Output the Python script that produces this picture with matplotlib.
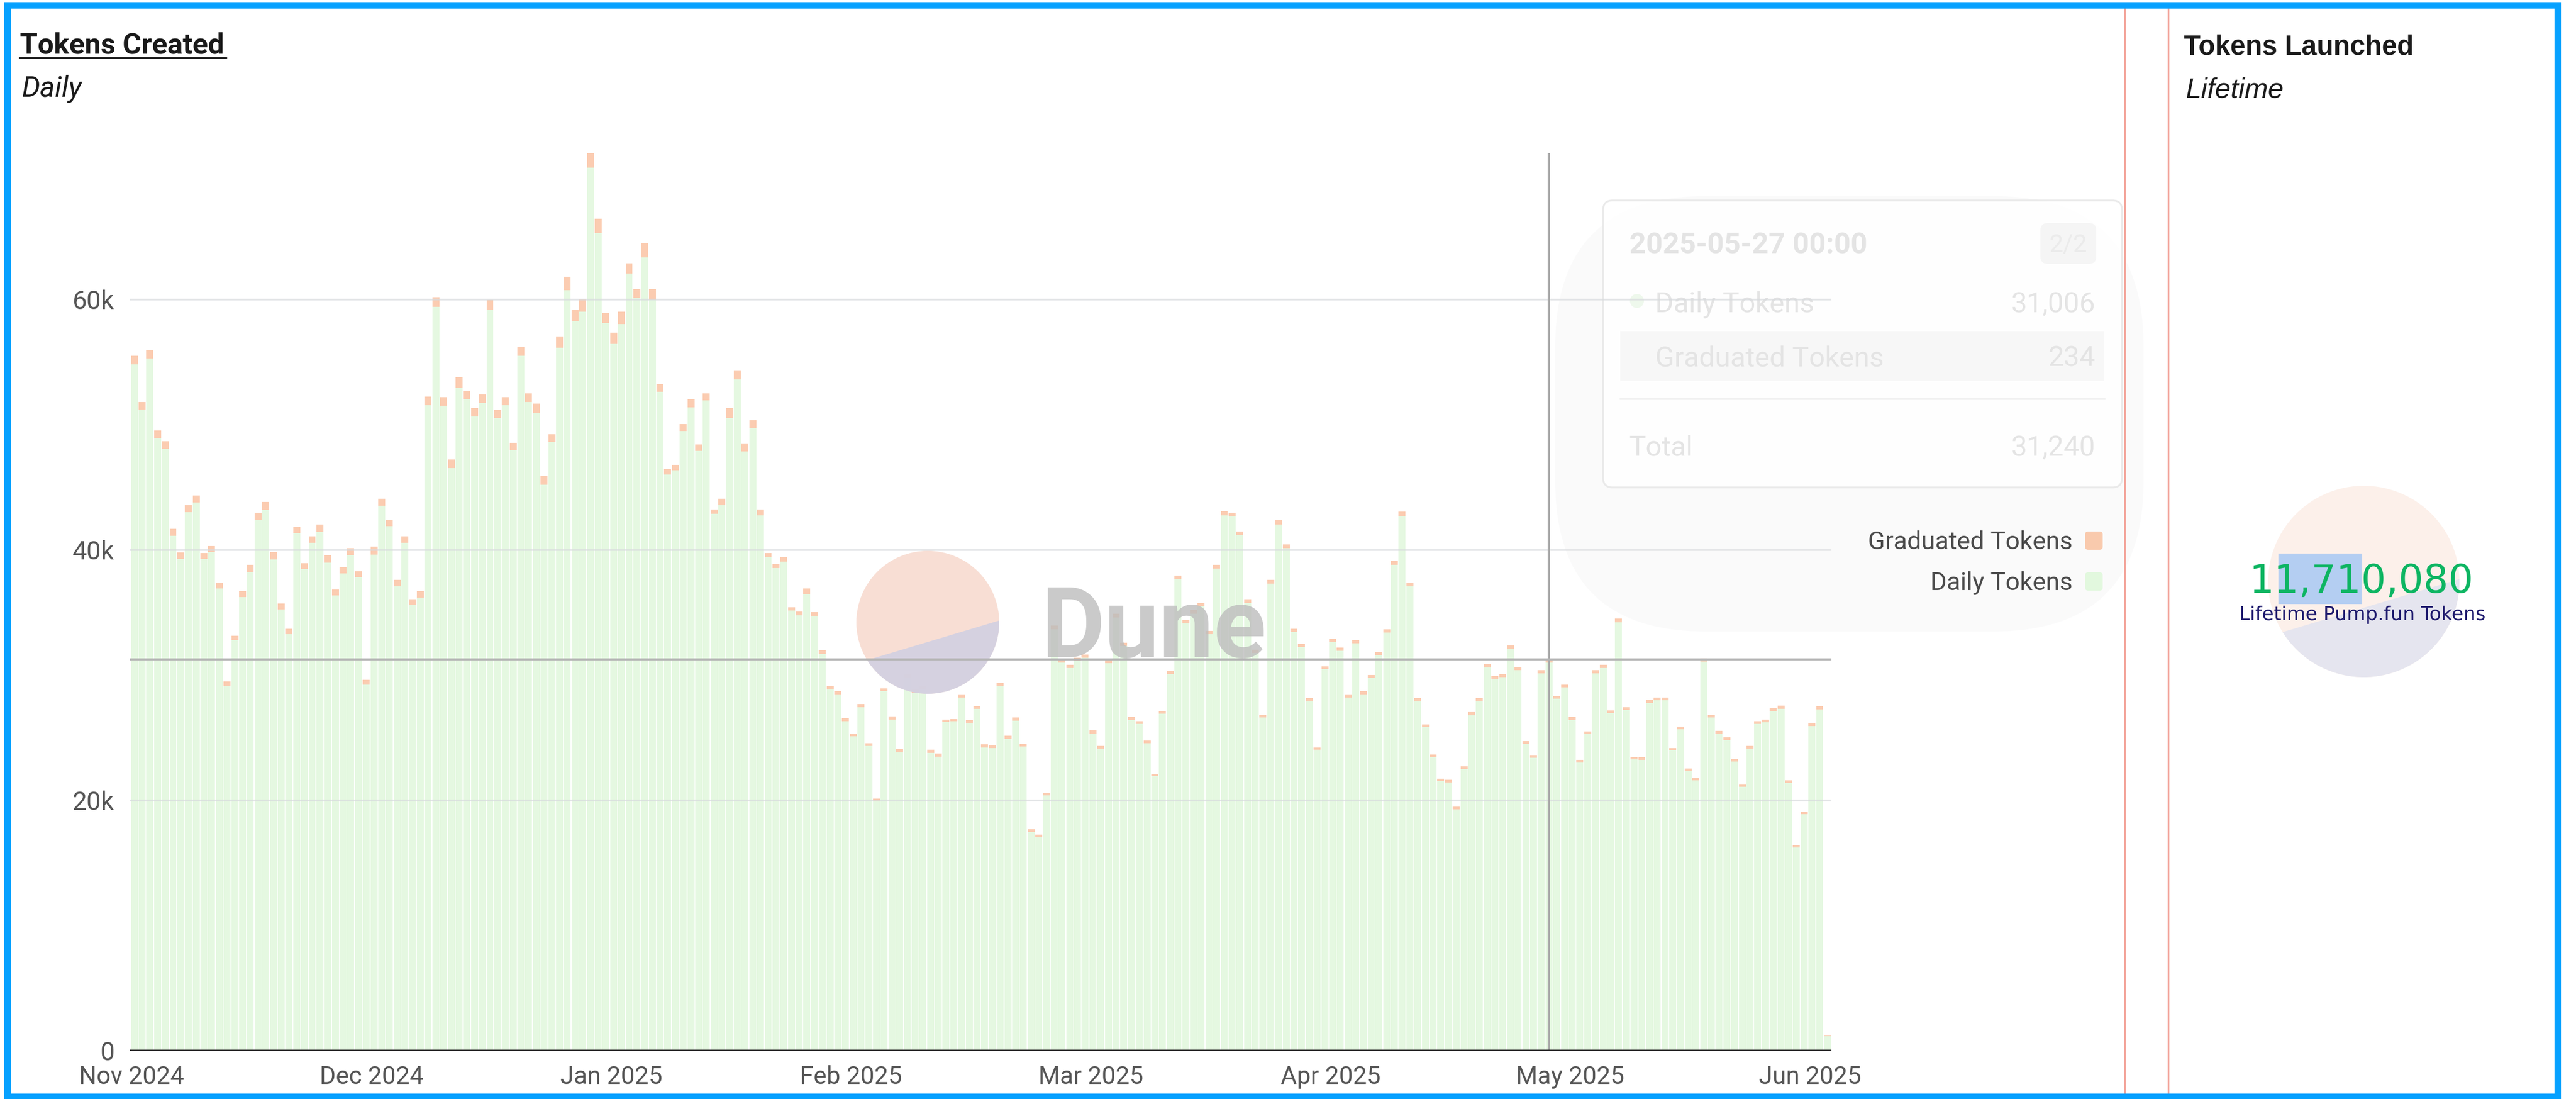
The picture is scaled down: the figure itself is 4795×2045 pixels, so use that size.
import numpy as np
import matplotlib
matplotlib.use('Agg')
import matplotlib.pyplot as plt
from matplotlib.transforms import Affine2D
from matplotlib.patches import Rectangle, FancyBboxPatch, Circle, Polygon
from matplotlib.lines import Line2D

plt.rcParams['font.family'] = ['Roboto', 'DejaVu Sans']

# ---------------- data ----------------
daily_tokens = [
    54820, 51220, 55280, 48920, 48080, 41140, 39260, 43010, 43780, 39260,
    39830, 36920, 29130, 32780, 36230, 38220, 42360, 43170, 39220, 35230,
    33270, 41330, 38450, 40560, 41440, 38990, 36340, 38140, 39600, 37800,
    29250, 39640, 43510, 41900, 37110, 40560, 35580, 36190, 51560, 59420,
    51530, 46540, 52910, 52020, 50640, 51720, 59190, 50530, 51560, 47960,
    55510, 51830, 50950, 45200, 48650, 56170, 60730, 58270, 59040, 70540,
    65290, 58120, 56430, 58040, 62070, 60150, 63370, 59960, 52640, 46040,
    46350, 49490, 51370, 47920, 51950, 42900, 43590, 50530, 53600, 47850,
    49720, 42750, 39410, 38570, 39060, 35150, 34770, 36460, 34730, 31660,
    28830, 28440, 26330, 25110, 27450, 24340, 19970, 28710, 26450, 23840,
    29780, 28600, 28830, 23800, 23500, 26260, 26300, 28210, 26180, 27290,
    24220, 24180, 29100, 24910, 26350, 24300, 17470, 17050, 20400, 33660,
    31000, 30560, 31140, 31360, 25340, 24120, 30950, 34620, 32310, 26400,
    26100, 24540, 21920, 26900, 30100, 37660, 34120, 34910, 35490, 33280,
    38500, 42760, 42660, 41170, 35760, 31750, 26600, 37320, 42040, 40140,
    33440, 32260, 27950, 24020, 30460, 32630, 31950, 28210, 32520, 28480,
    29780, 31610, 33400, 38800, 42720, 37090, 27950, 25850, 23440, 21530,
    21420, 19280, 22480, 26800, 27940, 30600, 29690, 29840, 32080, 30380,
    24500, 23400, 30150, 31006, 28100, 29010, 26420, 23020, 25270, 30150,
    30560, 26950, 34220, 27220, 23250, 23210, 27790, 27980, 27990, 23980,
    25660, 22340, 21610, 31060, 26600, 25310, 24820, 23100, 21070, 24120,
    26100, 26220, 27130, 27320, 21380, 16220, 18890, 25950, 27280, 1170,
]
graduated_tokens = [
    690, 610, 690, 610, 610, 530, 530, 580, 580, 490,
    500, 460, 350, 380, 460, 580, 620, 650, 610, 500,
    430, 530, 500, 540, 580, 610, 500, 500, 540, 500,
    380, 610, 580, 500, 500, 540, 490, 500, 690, 770,
    690, 690, 880, 690, 690, 690, 770, 650, 660, 580,
    730, 690, 730, 690, 610, 880, 1070, 920, 960, 1150,
    1150, 840, 920, 1000, 840, 690, 1150, 880, 570, 420,
    460, 580, 650, 500, 530, 340, 500, 800, 730, 650,
    620, 490, 340, 340, 350, 270, 310, 460, 310, 310,
    270, 270, 230, 230, 260, 230, 150, 230, 270, 230,
    270, 270, 300, 230, 230, 190, 190, 230, 230, 230,
    240, 240, 260, 240, 250, 230, 200, 200, 220, 300,
    280, 260, 260, 270, 230, 220, 250, 300, 270, 240,
    230, 220, 200, 240, 260, 290, 270, 280, 280, 260,
    300, 330, 320, 310, 280, 260, 230, 290, 320, 300,
    260, 250, 230, 210, 250, 260, 250, 230, 260, 230,
    240, 250, 260, 300, 330, 290, 230, 220, 210, 200,
    200, 190, 210, 230, 240, 260, 250, 250, 270, 250,
    220, 210, 250, 234, 230, 240, 220, 210, 220, 250,
    260, 230, 280, 230, 210, 210, 230, 240, 230, 210,
    220, 200, 200, 260, 230, 220, 210, 210, 200, 220,
    230, 230, 240, 240, 200, 180, 190, 230, 240, 30,
]
y_ticks = [0, 20000, 40000, 60000]
y_tick_labels = ['0', '20k', '40k', '60k']
month_labels = ['Nov 2024', 'Dec 2024', 'Jan 2025', 'Feb 2025',
                'Mar 2025', 'Apr 2025', 'May 2025', 'Jun 2025']
series_names = ['Graduated Tokens', 'Daily Tokens']
hover_index = 183
tooltip_date = '2025-05-27 00:00'
tooltip_page = '2/2'
lifetime_tokens = 11710080
lifetime_label = 'Lifetime Pump.fun Tokens'

GREEN = '#E5F8E1'
PEACH = '#FBCCB1'

# ---------------- figure ----------------
W, H = 4795, 2045
DPI = 300
fig = plt.figure(figsize=(W / DPI, H / DPI), dpi=DPI)
fig.patch.set_facecolor('white')
P = Affine2D().scale(1, -1).translate(0, H)   # image pixels (origin top-left)

AX_L, AX_R, AX_T, AX_B = 242, 3409, 285, 1955
ax = fig.add_axes([AX_L / W, 1 - AX_B / H, (AX_R - AX_L) / W, (AX_B - AX_T) / H])
ax.set_facecolor('white')

daily = np.array(daily_tokens)
grad = np.array(graduated_tokens)
total = daily + grad
x = np.arange(len(daily))

ax.bar(x, daily, width=0.9, color=GREEN, linewidth=0, zorder=2)
ax.bar(x, grad, bottom=daily, width=0.9, color=PEACH, linewidth=0, zorder=2)

ax.set_xlim(-0.56, len(daily) - 0.47)
ax.set_ylim(0, total.max())

for s in ax.spines.values():
    s.set_visible(False)

ax.set_yticks(y_ticks, y_tick_labels)
month_pos = np.arange(len(month_labels)) * 31.02 - 0.35
ax.set_xticks(month_pos, month_labels)
ax.tick_params(axis='y', length=0, pad=7, labelsize=11.5, labelcolor='#555555')
ax.tick_params(axis='x', length=0, pad=6.5, labelsize=11, labelcolor='#555555')

for v in y_ticks[1:]:
    ax.axhline(v, color='#D8DBDE', lw=0.8, alpha=0.7, zorder=6)
ax.axhline(0, color='#2a2a2a', lw=0.9, zorder=7)

# crosshair
ax.axvline(hover_index, color='#A9A9A9', lw=1.0, zorder=6)
ax.axhline(total[hover_index], color='#B4B4B4', lw=0.9, zorder=6)

# ---------------- Dune watermark ----------------
def logo(parent, cx, cy, r, c_top, c_bot, alpha, z):
    circ = Circle((cx, cy), r, transform=P, facecolor=c_top, edgecolor='none',
                  alpha=alpha, zorder=z)
    off = 0.275 * r
    slope = -0.30
    xl, xr = cx - r - 5, cx + r + 5
    poly = Polygon([(xl, cy + off + slope * (xl - cx)), (xr, cy + off + slope * (xr - cx)),
                    (xr, cy + r + 5), (xl, cy + r + 5)], closed=True, transform=P,
                   facecolor=c_bot, edgecolor='none', alpha=alpha, zorder=z + 0.01)
    if parent is None:
        fig.add_artist(circ)
        fig.add_artist(poly)
    else:
        parent.add_patch(circ)
        parent.add_patch(poly)
    clipc = Circle((cx, cy), r, transform=P)
    circ.set_clip_on(False)
    poly.set_clip_path(clipc)
    poly.set_clip_on(True)

logo(ax, 1727, 1158, 133, '#F7D9CD', '#CFCFE3', 0.85, 3)
ax.text(1938, 1223, 'Dune', transform=P, fontsize=43.5, fontweight='bold',
        color='#BDBDBD', alpha=0.8, ha='left', va='baseline', zorder=3, clip_on=False)

# ---------------- faded tooltip ----------------
blob = FancyBboxPatch((2895, 365), 1095, 810, boxstyle='round,pad=0,rounding_size=280',
                      transform=P, facecolor='#F8F8F9', edgecolor='none', alpha=0.7,
                      zorder=4, clip_on=False)
ax.add_patch(blob)
tip = FancyBboxPatch((2984, 373), 966, 534, boxstyle='round,pad=0,rounding_size=18',
                     transform=P, facecolor='white', edgecolor='#E8E8E8', lw=0.8,
                     alpha=0.9, zorder=4.5, clip_on=False)
ax.add_patch(tip)
ax.add_patch(FancyBboxPatch((3798, 415), 104, 76, boxstyle='round,pad=0,rounding_size=14',
                            transform=P, facecolor='#F5F5F5', edgecolor='none',
                            zorder=4.6, clip_on=False))
ax.add_patch(Rectangle((3016, 616), 901, 93, transform=P, facecolor='#F7F7F7',
                       edgecolor='none', zorder=4.6, clip_on=False))
ax.add_line(Line2D([3016, 3917], [742, 742], transform=P, color='#F0F0F0', lw=0.8,
                   zorder=4.6, clip_on=False))
ax.add_patch(Circle((3047, 560), 13, transform=P, facecolor='#EEF8EC', edgecolor='none',
                    zorder=4.7, clip_on=False))

TC = '#E4E4E4'
def ttext(xp, yp, s, **kw):
    base = dict(transform=P, color=TC, va='baseline', zorder=5, clip_on=False)
    base.update(kw)
    ax.text(xp, yp, s, **base)

ttext(3033, 471, tooltip_date, fontsize=13, fontweight='bold', ha='left')
ttext(3850, 469, tooltip_page, fontsize=11, ha='center', color='#EBEBEB')
ttext(3081, 581, series_names[1], fontsize=12.5, ha='left')
ttext(3900, 581, f'{daily[hover_index]:,}', fontsize=12.5, ha='right')
ttext(3081, 682, series_names[0], fontsize=12.5, ha='left')
ttext(3900, 682, f'{grad[hover_index]:,}', fontsize=12.5, ha='right')
ttext(3033, 848, 'Total', fontsize=12.5, ha='left')
ttext(3900, 848, f'{total[hover_index]:,}', fontsize=12.5, ha='right')

# legend
for (name, col, y0) in [(series_names[0], '#F9CAAD', 989), (series_names[1], '#E2F8DE', 1065)]:
    ax.add_patch(FancyBboxPatch((3881, y0), 33, 34, boxstyle='round,pad=0,rounding_size=6',
                                transform=P, facecolor=col, edgecolor='none', zorder=5,
                                clip_on=False))
    ax.text(3858, y0 + 33, name, transform=P, fontsize=11.2, color='#4A4A4A',
            ha='right', va='baseline', zorder=5, clip_on=False)

# ---------------- titles ----------------
def ftext(xp, yp, s, **kw):
    fig.text(xp, yp, s, transform=P, **kw)

ftext(37, 100, 'Tokens Created', fontsize=12.8, fontweight='bold', color='#1A1A1A',
      ha='left', va='baseline')
fig.add_artist(Line2D([37, 421], [108, 108], transform=P, color='#1A1A1A', lw=0.85))
ftext(40, 181, 'Daily', fontsize=12.8, fontstyle='italic', color='#1A1A1A',
      ha='left', va='baseline')

# ---------------- right panel ----------------
ftext(4065, 101, 'Tokens Launched', fontsize=12.2, fontweight='bold', color='#1A1A1A',
      ha='left', va='baseline', family=['Liberation Sans', 'DejaVu Sans'])
ftext(4068, 182, 'Lifetime', fontsize=12.5, fontstyle='italic', color='#1A1A1A',
      ha='left', va='baseline', family=['Liberation Sans', 'DejaVu Sans'])

logo(None, 4400, 1082, 178, '#FCF0EA', '#E5E5EF', 1.0, 1)
fig.add_artist(Rectangle((4241, 1030), 156, 94, transform=P, facecolor='#B4CEF2',
                         edgecolor='none', zorder=2))
ftext(4396, 1103, f'{lifetime_tokens:,}', fontsize=17.5, color='#0DB562',
      ha='center', va='baseline', family=['DejaVu Sans'], zorder=3)
ftext(4397, 1154, lifetime_label, fontsize=8.6, color='#1F1B6E',
      ha='center', va='baseline', family=['DejaVu Sans'], zorder=3)

# ---------------- frame ----------------
for xr in (3955, 4036):
    fig.add_artist(Line2D([xr, xr], [17, 2036], transform=P, color='#F3A79D', lw=0.75,
                          zorder=4))
fig.add_artist(Rectangle((13.5, 10), 4761 - 13.5, 2041 - 10, transform=P, fill=False,
                         edgecolor='#06A1FF', lw=2.9, zorder=5))

fig.savefig('out.png', dpi=DPI, facecolor='white')
